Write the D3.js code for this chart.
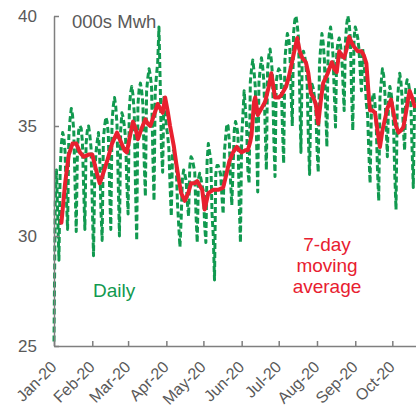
<!DOCTYPE html>
<html><head><meta charset="utf-8">
<script src="https://cdn.jsdelivr.net/npm/d3@7"></script>
<style>
body{margin:0;background:#fff}
svg{display:block;font-family:"Liberation Sans",Arial,sans-serif}
</style>
</head><body><svg id="c" width="416" height="408"></svg>
<script>
// ---- data ----
const startDate = "2020-01-01";
// daily electricity use, 000s MWh (one value per day from 1 Jan 2020)
const daily = [
  25.2, 31.5, 33.0, 31.0, 28.9,
  33.0, 34.2, 34.7, 34.5, 33.8, 31.8, 30.3,
  34.5, 35.3, 35.8, 35.5, 34.8, 32.5, 30.2,
  34.0, 34.8, 35.0, 34.9, 34.3, 32.2, 30.3,
  34.2, 34.8, 35.0, 34.6, 34.0, 31.5, 29.1,
  32.8, 33.8, 34.3, 34.7, 33.6, 31.2, 29.8,
  34.4, 35.0, 35.4, 35.2, 34.6, 32.3, 30.3,
  35.2, 35.9, 36.3, 35.9, 35.1, 32.5, 30.0,
  34.8, 35.6, 35.4, 35.0, 34.4, 32.4, 31.0,
  35.8, 36.5, 36.8, 36.4, 35.6, 32.2, 29.8,
  36.0, 36.7, 36.95, 36.6, 36.0, 33.5, 31.8,
  36.6, 37.2, 37.6, 37.3, 36.8, 33.8, 31.6,
  36.6, 37.3, 37.9, 39.5, 37.0, 34.0, 32.9,
  36.3, 35.8, 35.0, 34.6, 34.0, 32.3, 30.9,
  33.8, 33.9, 33.5, 33.2, 31.5, 30.5, 29.5,
  30.8, 32.6, 33.0, 32.8, 32.5, 31.5, 30.9,
  33.2, 33.6, 33.5, 33.2, 32.9, 31.0, 29.7,
  32.6, 32.85, 32.6, 32.3, 32.0, 30.5, 29.7,
  33.4, 34.2, 33.8, 33.5, 31.0, 30.0, 28.0,
  32.8, 33.2, 33.2, 33.0, 32.8, 31.8, 31.0,
  33.8, 34.5, 35.1, 35.0, 34.3, 32.5, 31.4,
  33.0, 34.8, 35.2, 35.0, 34.6, 31.5, 29.7,
  34.5, 35.5, 36.6, 35.8, 35.0, 33.0, 32.4,
  37.0, 37.6, 38.0, 37.5, 36.8, 34.5, 32.0,
  37.0, 37.6, 38.1, 37.7, 37.0, 35.0, 33.0,
  37.6, 38.2, 38.5, 38.0, 37.3, 34.5, 32.7,
  37.0, 37.4, 37.6, 37.5, 37.0, 35.0, 33.3,
  38.0, 38.7, 39.2, 39.0, 38.5, 36.5, 35.0,
  39.2, 39.8, 40.0, 39.6, 39.0, 36.5, 33.8,
  38.0, 38.4, 38.2, 37.8, 37.0, 34.5, 32.8,
  36.2, 36.9, 36.7, 36.3, 35.8, 34.0, 32.9,
  37.8, 38.6, 39.2, 38.8, 38.0, 36.0, 34.05,
  38.5, 39.2, 39.5, 39.0, 38.2, 36.5, 34.95,
  38.3, 38.8, 39.0, 38.7, 38.2, 37.0, 35.7,
  38.8, 39.6, 40.0, 39.7, 39.0, 36.5, 34.8,
  39.0, 39.5, 39.3, 39.0, 38.5, 37.5, 36.6,
  38.5, 38.0, 37.0, 36.0, 35.5, 33.8, 32.4,
  35.5, 36.3, 36.5, 36.0, 35.0, 33.0, 31.6,
  36.3, 37.0, 37.6, 37.3, 36.5, 35.0, 33.6,
  36.3, 36.8, 36.5, 36.0, 35.0, 32.8, 31.2,
  36.0, 36.8, 37.4, 37.0, 36.2, 34.8, 33.9,
  36.8, 37.1, 37.0, 36.6, 36.0, 34.0, 32.2,
  36.0, 36.8
];
// 7-day moving average
const maDates = [
  "2020-01-07","2020-01-10","2020-01-13","2020-01-16","2020-01-19","2020-01-22","2020-01-25","2020-01-29",
  "2020-02-01","2020-02-05","2020-02-07","2020-02-09","2020-02-13","2020-02-17","2020-02-21","2020-02-24",
  "2020-02-27","2020-02-29","2020-03-02","2020-03-05","2020-03-07","2020-03-09","2020-03-12","2020-03-15",
  "2020-03-17","2020-03-19","2020-03-22","2020-03-25","2020-03-27","2020-03-29","2020-03-31","2020-04-02",
  "2020-04-04","2020-04-07","2020-04-09","2020-04-11","2020-04-13","2020-04-16","2020-04-19","2020-04-21",
  "2020-04-24","2020-04-26","2020-04-28","2020-04-30","2020-05-02","2020-05-05","2020-05-09","2020-05-13",
  "2020-05-17","2020-05-20","2020-05-22","2020-05-25","2020-05-28","2020-05-30","2020-06-01","2020-06-04",
  "2020-06-06","2020-06-08","2020-06-09","2020-06-11","2020-06-12","2020-06-14","2020-06-17","2020-06-20",
  "2020-06-23","2020-06-25","2020-06-28","2020-07-01","2020-07-03","2020-07-07","2020-07-09","2020-07-11",
  "2020-07-14","2020-07-16","2020-07-18","2020-07-20","2020-07-23","2020-07-25","2020-07-27","2020-07-29",
  "2020-07-31","2020-08-02","2020-08-04","2020-08-06","2020-08-09","2020-08-11","2020-08-13","2020-08-15",
  "2020-08-17","2020-08-19","2020-08-21","2020-08-23","2020-08-25","2020-08-27","2020-08-29","2020-08-31",
  "2020-09-03","2020-09-06","2020-09-08","2020-09-10","2020-09-12","2020-09-13","2020-09-15","2020-09-17",
  "2020-09-19","2020-09-21","2020-09-23","2020-09-25","2020-09-27","2020-09-30","2020-10-02","2020-10-04",
  "2020-10-06","2020-10-08","2020-10-10","2020-10-12","2020-10-14","2020-10-15","2020-10-17","2020-10-19"
];
const maValues = [
  30.6, 32.4, 33.7, 34.2, 34.2, 33.8, 33.6, 33.7,
  33.7, 32.8, 32.4, 32.7, 33.4, 34.2, 34.7, 34.3,
  33.9, 33.8, 34.4, 35.2, 34.9, 34.4, 34.9, 35.3,
  35.1, 35.0, 35.5, 36.0, 35.8, 35.6, 36.3, 35.7,
  35.0, 34.1, 33.3, 32.6, 31.95, 31.6, 32.0, 32.4,
  32.4, 32.5, 32.3, 32.1, 31.2, 31.95, 32.1, 32.1,
  32.2, 32.9, 33.4, 33.8, 34.05, 33.9, 33.8, 33.9,
  33.9, 34.3, 34.6, 36.1, 36.3, 35.5, 35.8, 36.1,
  36.8, 37.4, 36.3, 36.3, 36.4, 36.8, 37.2, 37.7,
  38.5, 39.0, 38.4, 38.1, 37.9, 37.4, 36.5, 36.3,
  36.0, 35.1, 36.1, 36.95, 37.3, 37.6, 37.9, 37.6,
  37.45, 38.4, 38.2, 38.1, 38.5, 39.05, 38.8, 38.6,
  38.4, 38.4, 38.2, 37.85, 36.3, 35.7, 35.7, 35.6,
  34.8, 34.05, 34.8, 35.3, 35.8, 36.2, 35.6, 35.0,
  34.7, 34.8, 34.95, 35.6, 36.3, 36.6, 36.3, 35.9
];
const monthTicks = ["2020-01-01","2020-02-01","2020-03-01","2020-04-01","2020-05-01",
                    "2020-06-01","2020-07-01","2020-08-01","2020-09-01","2020-10-01"];
const monthLabels = ["Jan-20","Feb-20","Mar-20","Apr-20","May-20","Jun-20","Jul-20","Aug-20","Sep-20","Oct-20"];
const yTicks = [25, 30, 35, 40];
const unitLabel = "000s Mwh";
const dailyLabel = "Daily";
const maLabel = ["7-day", "moving", "average"];

// ---- chart ----
const parse = d3.utcParse("%Y-%m-%d");
const t0 = parse(startDate);
const dailyPts = daily.map((v, i) => ({d: d3.utcDay.offset(t0, i), v}));
const maPts = maDates.map((s, i) => ({d: parse(s), v: maValues[i]}));

const svg = d3.select("#c");
const x = d3.scaleUtc().domain([t0, parse("2020-10-31")]).range([54, 54 + 304 * 1.2347]);
const y = d3.scaleLinear().domain([25, 40]).range([346, 16]);

const textCol = "#595959", axisCol = "#7f7f7f";

const line = d3.line().x(p => x(p.d)).y(p => y(p.v));

svg.append("path").datum(dailyPts)
  .attr("d", line).attr("fill", "none")
  .attr("stroke", "#11994f").attr("stroke-width", 3)
  .attr("stroke-dasharray", "6,3").attr("stroke-linejoin", "round");

svg.append("path").datum(maPts)
  .attr("d", line).attr("fill", "none")
  .attr("stroke", "#e8202f").attr("stroke-width", 4)
  .attr("stroke-linejoin", "round").attr("stroke-linecap", "round");

// y axis
const gy = svg.append("g").attr("transform", "translate(54,0)")
  .call(d3.axisLeft(y).tickValues(yTicks).tickSizeInner(-5).tickSizeOuter(0).tickPadding(17).tickFormat(d3.format("d")));
gy.select(".domain").attr("stroke", axisCol).attr("stroke-width", 1.5);
gy.selectAll(".tick line").attr("stroke", axisCol).attr("stroke-width", 1.5);
gy.selectAll(".tick text").attr("fill", textCol).style("font-size", "17px")
  .style("font-family", '"Liberation Sans",Arial,sans-serif');

// x axis
const gx = svg.append("g").attr("transform", "translate(0,346)")
  .call(d3.axisBottom(x).tickValues(monthTicks.map(parse)).tickSizeInner(-5).tickSizeOuter(0)
        .tickFormat((d, i) => monthLabels[i]));
gx.select(".domain").attr("stroke", axisCol).attr("stroke-width", 1.5);
gx.selectAll(".tick line").attr("stroke", axisCol).attr("stroke-width", 1.5);
gx.selectAll(".tick text").attr("fill", textCol).style("font-size", "16px")
  .style("font-family", '"Liberation Sans",Arial,sans-serif')
  .attr("y", 0).attr("dy", null).attr("text-anchor", "end")
  .attr("transform", "translate(3,22) rotate(-45)");

// labels
svg.append("text").attr("x", 72).attr("y", 28).attr("fill", textCol)
  .style("font-size", "18.5px").text(unitLabel);
svg.append("text").attr("x", 93).attr("y", 297).attr("fill", "#11994f")
  .style("font-size", "19px").text(dailyLabel);
svg.append("text").attr("x", 327).attr("y", 251).attr("fill", "#e8202f")
  .attr("text-anchor", "middle").style("font-size", "19px")
  .selectAll("tspan").data(maLabel).join("tspan")
  .attr("x", 327).attr("dy", (d, i) => i ? 21.2 : 0).text(d => d);
</script>
</body></html>
